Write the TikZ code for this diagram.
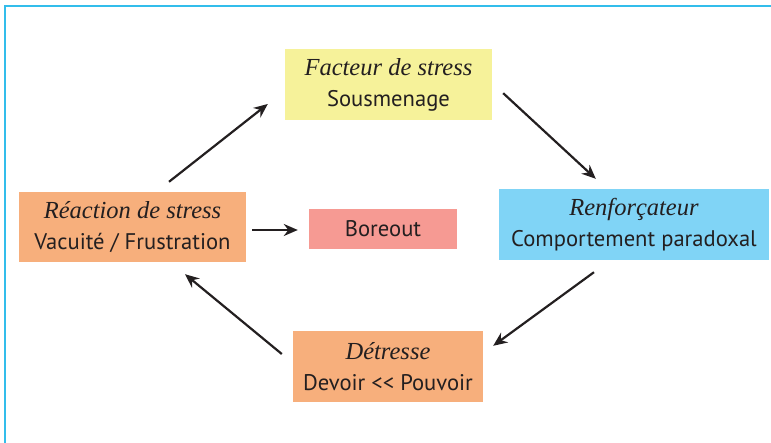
\documentclass[tikz,border=0pt]{standalone}
\usepackage{fontspec}
\usetikzlibrary{arrows.meta}
\setmainfont{Liberation Serif}
\setsansfont{PT Sans}
\definecolor{jaune}{HTML}{F6F29A}
\definecolor{orangeclair}{HTML}{F7AF7C}
\definecolor{bleu}{HTML}{80D4F6}
\definecolor{saumon}{HTML}{F69A93}
\definecolor{cadre}{HTML}{33BDEB}
\definecolor{encre}{HTML}{231F20}
\newcommand{\titre}[1]{{\fontsize{24.5}{31}\selectfont\rmfamily\itshape #1}}
\tikzset{
  boite/.style={inner sep=0pt, minimum height=71pt, align=center, text=encre,
    font=\fontsize{22.6}{31}\selectfont\sffamily},
  fleche/.style={encre, line width=2.2pt, -{Stealth[length=14pt,width=12pt]}},
}
\begin{document}
\begin{tikzpicture}[x=1pt,y=-1pt]
                \useasboundingbox (0,0) rectangle (771,443);

                % 枠線
                \draw[cadre, line width=1.5pt] (5,443) -- (5,6) -- (771,6);

                % ボックス
                \node[boite, fill=jaune, minimum width=207pt] (fact) at (388.5,84.5)
                  {\titre{Facteur de stress}\\Sousmenage};
                \node[boite, fill=bleu, minimum width=270pt] (renf) at (634,224.5)
                  {\titre{Renforçateur}\\Comportement paradoxal};
                \node[boite, fill=orangeclair, minimum width=190pt] (detr) at (388,366.5)
                  {\titre{Détresse}\\Devoir {<}{<} Pouvoir};
                \node[boite, fill=orangeclair, minimum width=227pt, minimum height=70pt] (reac) at (132.5,227)
                  {\titre{Réaction de stress}\\Vacuité / Frustration};
                \node[boite, fill=saumon, minimum width=148pt, minimum height=40pt] (bore) at (383,229)
                  {Boreout};

                % 矢印(循環)
                \draw[fleche] ([shift={(36.5,-10)}]reac.north) -- ([shift={(-17,19.5)}]fact.west);
                \draw[fleche] ([shift={(11,-27)}]fact.south east) -- ([shift={(97,-10)}]renf.north west);
                \draw[fleche] ([shift={(-40,12)}]renf.south) -- ([shift={(10,15)}]detr.north east);
                \draw[fleche] ([shift={(-11,-12.5)}]detr.west) -- ([shift={(52.5,12)}]reac.south);

                % 矢印(Boreout へ)
                \draw[fleche] ([shift={(6,3)}]reac.east) -- ([shift={(-11,1)}]bore.west);
\end{tikzpicture}
\end{document}
